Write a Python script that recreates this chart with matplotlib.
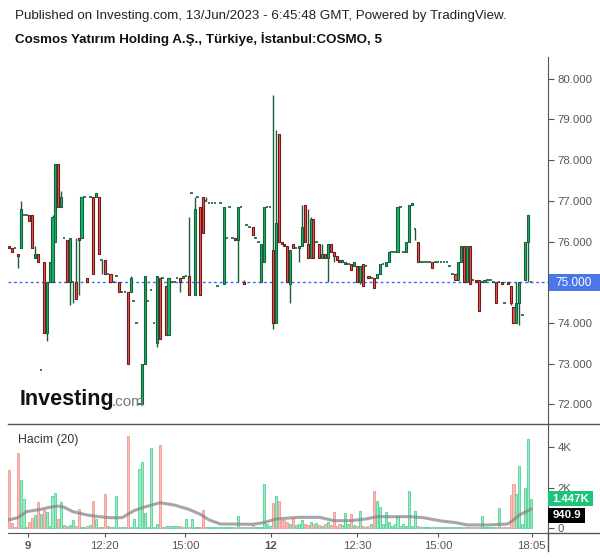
import matplotlib.pyplot as plt
from matplotlib.lines import Line2D
from matplotlib.patches import Rectangle

plt.rcParams['font.family'] = ['Liberation Sans', 'DejaVu Sans']

# ---- 5-minute bars, 9 Jun and 12 Jun 2023 ----
opens = [
    75.90, 75.85, 75.85, 75.70, 75.85, 76.65, 76.65, 76.65, 76.65, 75.60,
    75.70, 72.85, 75.50, 73.75, 75.00, 75.00, 76.00, 77.90, 76.85, 76.10,
    76.05, 75.00, 75.00, 75.00, 76.10, 76.10, 77.10, 75.10, 77.10, 77.10,
    77.10, 77.10, 75.55, 75.55, 75.20, 75.20, 75.00, 75.15, 75.00, 74.75,
    74.75, 74.75, 74.75, 74.55, 74.00, 72.00, 72.00, 73.00, 74.55, 74.80,
    74.00, 73.50, 75.10, 75.10, 74.90, 73.70, 75.00, 75.00, 75.10, 75.10,
    75.10, 75.15, 75.15, 77.20, 74.70, 77.10, 76.85, 77.10, 77.00, 76.95,
    76.95, 76.95, 74.90, 76.95, 74.95, 76.10, 76.85, 76.10, 76.10, 76.05,
    76.85, 75.00, 76.40, 76.35, 76.35, 76.10, 76.00, 75.00, 75.50, 76.85,
    76.85,
    75.80, 74.00, 78.65, 76.00, 75.95, 75.90, 74.95, 75.95, 75.85, 75.85,
    75.90, 76.90, 75.95, 75.60, 76.55, 76.00, 75.95, 75.60, 75.70, 75.60,
    75.95, 75.75, 75.65, 75.55, 75.50, 75.45, 75.45, 75.45, 75.40, 75.40,
    75.00, 75.45, 75.40, 75.15, 75.10, 75.10, 75.10, 75.20, 75.45, 75.40,
    75.50, 75.75, 75.75, 75.75, 76.85, 75.75, 75.75, 76.00, 76.90, 76.30,
    76.00, 75.50, 75.50, 75.50, 75.50, 75.50, 75.50, 75.50, 75.50, 75.50,
    75.50, 75.40, 75.20, 75.20, 75.05, 75.50, 75.90, 75.00, 75.90, 75.05,
    75.05, 75.05, 75.00, 75.00, 75.05, 75.05, 75.00, 75.00, 75.00, 75.00,
    74.50, 75.00, 74.90, 74.40, 74.00, 74.50, 74.20, 75.05, 76.00, 75.00,
]
highs = [
    75.90, 75.85, 75.85, 75.70, 77.00, 76.65, 76.65, 76.65, 76.65, 75.90,
    75.70, 72.85, 75.50, 75.00, 75.50, 76.65, 77.90, 77.90, 77.25, 76.10,
    76.05, 76.10, 75.00, 76.10, 76.10, 77.10, 77.10, 75.10, 77.10, 77.10,
    77.20, 77.10, 75.55, 75.55, 75.20, 75.20, 75.00, 75.15, 75.00, 74.75,
    74.75, 74.75, 75.15, 74.55, 74.00, 72.00, 73.00, 75.15, 74.55, 74.80,
    74.00, 75.15, 75.10, 75.10, 74.90, 75.10, 75.00, 75.00, 75.10, 75.10,
    75.15, 75.15, 76.60, 77.20, 77.10, 77.10, 76.85, 77.10, 77.10, 76.95,
    76.95, 76.95, 74.90, 76.95, 76.85, 76.10, 76.85, 76.10, 76.10, 76.85,
    76.85, 75.05, 76.40, 76.35, 76.35, 76.10, 76.00, 75.95, 76.85, 76.85,
    76.85,
    79.60, 78.75, 78.65, 76.00, 75.95, 75.90, 75.80, 75.95, 75.85, 75.90,
    76.90, 76.90, 76.80, 76.60, 76.55, 76.00, 75.95, 75.95, 75.70, 75.95,
    75.95, 75.75, 75.65, 75.55, 75.55, 75.50, 75.45, 75.45, 75.50, 75.40,
    75.40, 75.45, 75.40, 75.15, 75.10, 75.10, 75.20, 75.45, 75.45, 75.50,
    75.75, 75.75, 75.75, 76.85, 76.85, 75.75, 76.00, 76.90, 76.95, 76.30,
    76.00, 75.50, 75.50, 75.50, 75.50, 75.50, 75.50, 75.50, 75.50, 75.50,
    75.50, 75.40, 75.20, 75.20, 75.50, 75.90, 75.90, 75.90, 75.90, 75.05,
    75.05, 75.05, 75.00, 75.05, 75.05, 75.05, 75.00, 75.00, 75.00, 75.00,
    74.50, 75.00, 74.90, 74.40, 75.00, 75.00, 74.20, 76.00, 76.65, 75.00,
]
lows = [
    75.85, 75.75, 75.85, 75.35, 75.85, 76.65, 76.65, 76.50, 75.85, 75.60,
    75.50, 72.85, 73.75, 73.55, 75.00, 75.00, 76.00, 76.85, 76.85, 76.10,
    75.00, 74.45, 74.50, 74.60, 74.70, 76.10, 77.10, 75.00, 77.10, 75.20,
    77.10, 75.70, 75.20, 75.20, 75.20, 75.00, 75.00, 75.15, 74.75, 74.75,
    74.75, 73.00, 74.75, 74.55, 74.00, 72.00, 72.00, 73.00, 74.55, 74.80,
    74.00, 73.40, 73.60, 75.10, 73.70, 73.70, 75.00, 75.00, 75.10, 74.75,
    75.10, 75.15, 74.70, 77.20, 74.70, 77.10, 74.70, 76.20, 77.00, 76.95,
    76.95, 76.95, 74.90, 76.95, 74.95, 76.10, 76.85, 76.10, 76.05, 75.00,
    76.85, 74.95, 76.40, 76.35, 76.15, 76.10, 76.00, 75.00, 75.50, 76.85,
    76.85,
    73.85, 74.00, 76.00, 75.95, 75.90, 75.00, 74.50, 75.85, 75.85, 75.50,
    75.90, 76.00, 75.60, 75.60, 75.60, 76.00, 75.60, 75.60, 75.60, 75.00,
    75.75, 75.50, 75.55, 75.50, 75.50, 75.45, 75.45, 75.30, 75.40, 75.00,
    74.95, 74.90, 75.40, 75.10, 75.10, 74.85, 75.10, 75.20, 75.45, 75.40,
    75.50, 75.75, 75.75, 75.75, 76.85, 75.75, 75.75, 76.00, 76.90, 76.05,
    75.50, 75.50, 75.50, 75.50, 75.50, 75.35, 75.50, 75.50, 75.50, 75.50,
    75.50, 75.40, 75.20, 75.05, 75.05, 75.50, 75.00, 75.00, 74.95, 75.05,
    75.00, 74.30, 75.00, 75.00, 75.05, 75.05, 75.00, 74.50, 75.00, 74.95,
    74.50, 74.95, 74.45, 74.00, 74.00, 73.95, 74.20, 75.05, 75.00, 75.00,
]
closes = [
    75.85, 75.75, 75.85, 75.65, 76.80, 76.65, 76.65, 76.50, 75.85, 75.70,
    75.50, 72.85, 73.75, 75.00, 75.50, 76.60, 77.90, 76.85, 77.10, 76.10,
    75.00, 76.10, 75.00, 74.60, 76.05, 77.10, 77.10, 75.00, 77.10, 75.20,
    77.20, 75.70, 75.55, 75.20, 75.20, 75.00, 75.00, 75.15, 74.75, 74.75,
    74.75, 73.00, 75.10, 74.55, 74.00, 72.00, 73.00, 75.15, 74.55, 74.80,
    74.00, 75.15, 73.60, 75.10, 73.70, 75.10, 75.00, 75.00, 75.10, 75.00,
    75.15, 75.15, 74.70, 77.20, 76.80, 77.10, 74.70, 76.20, 77.00, 76.95,
    76.95, 76.95, 74.90, 76.95, 76.85, 76.10, 76.85, 76.10, 76.05, 76.85,
    76.85, 74.95, 76.40, 76.35, 76.15, 76.10, 76.00, 75.95, 76.85, 76.85,
    76.85,
    74.00, 76.45, 76.00, 75.95, 75.90, 75.00, 75.80, 75.85, 75.85, 75.90,
    76.35, 76.00, 75.60, 76.55, 75.60, 76.00, 75.60, 75.70, 75.60, 75.95,
    75.75, 75.65, 75.55, 75.50, 75.55, 75.50, 75.45, 75.30, 75.50, 75.00,
    75.40, 74.90, 75.40, 75.10, 75.10, 74.85, 75.20, 75.45, 75.45, 75.50,
    75.75, 75.75, 75.75, 76.85, 76.85, 75.75, 76.00, 76.90, 76.95, 76.30,
    75.50, 75.50, 75.50, 75.50, 75.50, 75.35, 75.50, 75.50, 75.50, 75.50,
    75.50, 75.40, 75.20, 75.05, 75.50, 75.90, 75.00, 75.90, 74.95, 75.05,
    75.00, 74.30, 75.00, 75.05, 75.05, 75.05, 75.00, 74.50, 75.00, 74.95,
    74.50, 74.95, 74.50, 74.00, 74.50, 75.00, 74.20, 76.00, 76.65, 75.00,
]
volumes = [
    2850, 245, 50, 3700, 2360, 1420, 80, 330, 520, 650,
    1270, 685, 880, 815, 110, 1580, 1730, 450, 1290, 150,
    100, 150, 400, 100, 930, 60, 80, 100, 150, 1340,
    470, 80, 60, 1680, 100, 60, 80, 1565, 60, 40,
    60, 4515, 60, 470, 80, 2930, 3230, 735, 60, 3960,
    60, 210, 4075, 60, 115, 115, 115, 115, 115, 115,
    60, 456, 60, 440, 60, 80, 60, 900, 60, 50,
    40, 40, 50, 40, 40, 60, 50, 40, 60, 590,
    60, 40, 50, 60, 150, 60, 40, 80, 2170, 200,
    100,
    1240, 1580, 1320, 400, 400, 300, 200, 520, 150,
    200, 400, 200, 150, 300, 200, 250, 150, 100, 200,
    300, 150, 780, 100, 200, 150, 730, 200, 680, 150,
    100, 850, 100, 60, 100, 200, 1825, 1340, 1060, 200,
    815, 300, 100, 200, 600, 100, 200, 100, 1825, 100,
    850, 100, 60, 60, 60, 60, 60, 60, 60, 60,
    60, 60, 60, 60, 60, 60, 60, 60, 60, 60,
    60, 60, 60, 590, 60, 60, 60, 60, 60, 980,
    60, 60, 60, 1610, 2170, 1680, 3050, 200, 1955, 4400,
    1447,
]
# 20-bar volume average, read at a few bars
ma_idx = [-0.3, 3, 6, 11, 14, 17, 19, 22, 27, 31, 35, 39, 43, 46, 52, 57, 62, 66, 69, 73,
          77, 84, 88, 92, 98, 100, 107, 112, 118, 123, 127, 131, 138, 143, 149, 154, 158,
          165, 172, 174, 176, 180]
ma_val = [410, 520, 815, 930, 1030, 1090, 1030, 815, 650, 570, 520, 520, 860, 1010, 1255,
          1140, 930, 685, 410, 210, 210, 195, 280, 456, 520, 540, 540, 375, 375, 456, 570,
          570, 570, 520, 360, 280, 165, 165, 210, 410, 650, 941]

tick_pos = [6.5, 33, 60.7, 90.3, 120, 148, 180.3]
tick_lab = ['9', '12:20', '15:00', '12', '12:30', '15:00', '18:05']
day_ticks = ['9', '12']
price_ticks = [72, 73, 74, 75, 76, 77, 78, 79, 80]
last_price = 75.0
last_volume = 1447
last_ma = 940.9

UP, DOWN = '#0cb96c', '#f0564c'
UP_EDGE, DOWN_EDGE = '#1b5e3b', '#6e1b1b'
AX = '#555555'

fig = plt.figure(figsize=(6, 5.58), dpi=100)
W, H = 600, 558
ax = fig.add_axes([8 / W, 1 - 425 / H, 540 / W, 368 / H])
axv = fig.add_axes([8 / W, 1 - 533 / H, 540 / W, 108 / H], sharex=ax)


def px_box(x0, y0, x1, y1, color):
    # rectangle given in picture pixels (top-left origin)
    fig.add_artist(Rectangle((x0 / W, 1 - y1 / H), (x1 - x0) / W, (y1 - y0) / H,
                             transform=fig.transFigure, fc=color, ec='none', zorder=5))


x = list(range(len(opens)))
for i in x:
    o, h, l, c = opens[i], highs[i], lows[i], closes[i]
    if h > max(o, c) or l < min(o, c):
        ax.vlines(i, l, h, color=UP_EDGE, lw=1, zorder=2)
    if o == c:
        ax.hlines(o, i - 0.45, i + 0.45, color=UP_EDGE, lw=1.2, zorder=3)
    else:
        up = c > o
        ax.bar(i, c - o, bottom=o, width=0.72, color=UP if up else DOWN,
               edgecolor=UP_EDGE if up else DOWN_EDGE, linewidth=0.8, zorder=3)

ax.axhline(last_price, color='#3a6cf0', lw=1, ls=(0, (2, 2)), zorder=1)
ax.set_ylim(71.494, 80.535)
ax.set_xlim(-0.35, 185.9)
ax.yaxis.tick_right()
ax.set_yticks(price_ticks)
ax.set_yticklabels(['' if p == last_price else f'{p:.3f}' for p in price_ticks])
ax.tick_params(axis='y', colors=AX, labelcolor=AX, labelsize=8.2, length=4, width=0.8, pad=3)
ax.tick_params(axis='x', length=0, labelbottom=False)
for s in ['left', 'top', 'bottom']:
    ax.spines[s].set_visible(False)
ax.spines['right'].set_color(AX)

# volume pane
for i in x:
    up = closes[i] >= opens[i]
    axv.bar(i, volumes[i], width=0.72, color='#a3e9c8' if up else '#fbc0bc',
            edgecolor='#62d79f' if up else '#f4a09a', linewidth=0.7)
axv.plot(ma_idx, ma_val, color='#888888', lw=2.2, alpha=0.75, solid_joinstyle='round')
axv.set_ylim(-230, 5064)
axv.yaxis.tick_right()
axv.set_yticks([0, 2000, 4000])
axv.set_yticklabels(['0', '2K', '4K'])
axv.tick_params(axis='y', colors=AX, labelcolor=AX, labelsize=8.2, length=4, width=0.8, pad=3)
axv.set_xticks(tick_pos)
axv.set_xticklabels(tick_lab)
axv.tick_params(axis='x', colors=AX, labelcolor=AX, labelsize=8.2, length=3, width=0.8, pad=3)
for lab in axv.get_xticklabels():
    if lab.get_text() in day_ticks:
        lab.set_fontweight('bold')
for s in ['left', 'top']:
    axv.spines[s].set_visible(False)
axv.spines['right'].set_color(AX)
axv.spines['bottom'].set_color(AX)
axv.text(10 / 540, 0.86, 'Hacim (20)', transform=axv.transAxes, fontsize=8.8,
         color='#333333', va='center')

# last-value labels on the right axis
px_box(549, 274, 600, 291, '#4a76e8')
fig.text(574 / W, 1 - 282.5 / H, f'{last_price:.3f}', color='white', fontsize=8.5,
         ha='center', va='center', zorder=6)
px_box(548, 491, 593, 506, '#1ec47b')
fig.text(571 / W, 1 - 498.5 / H, f'{last_volume / 1000:.3f}K', color='white', fontsize=8.2,
         fontweight='bold', ha='center', va='center', zorder=6)
px_box(548, 508, 585, 523, '#000000')
fig.text(566.5 / W, 1 - 515.5 / H, f'{last_ma:.1f}', color='white', fontsize=8.2,
         fontweight='bold', ha='center', va='center', zorder=6)

# frame lines
fig.add_artist(Line2D([8 / W, 1], [1 - 424 / H] * 2, color=AX, lw=1))
fig.add_artist(Line2D([548 / W, 1], [1 - 533 / H] * 2, color=AX, lw=1))
fig.add_artist(Line2D([547.5 / W] * 2, [1 - 533 / H, 1 - 551 / H], color=AX, lw=1))

# header
fig.text(15 / W, 1 - 16 / H, 'Published on Investing.com, 13/Jun/2023 - 6:45:48 GMT, Powered by TradingView.',
         fontsize=9.6, color='#222222', va='center')
fig.text(15 / W, 1 - 39 / H, 'Cosmos Yatırım Holding A.Ş., Türkiye, İstanbul:COSMO, 5',
         fontsize=9.6, fontweight='bold', color='#111111', va='center')

# watermark
fig.text(20 / W, 1 - 400 / H, 'Investing', fontsize=15.5, fontweight='bold', color='#111111', va='center')
fig.text(112 / W, 1 - 402 / H, '.com', fontsize=11, color='#777777', va='center')

fig.savefig('out.png', dpi=100)
